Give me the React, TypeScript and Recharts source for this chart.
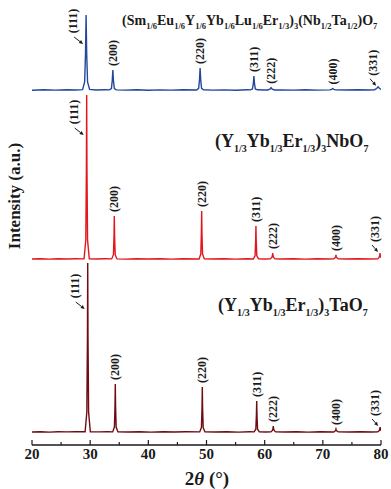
import { LineChart, Line, XAxis, YAxis, ReferenceDot } from "recharts";

// 2θ axis
const twoThetaTicks = [20, 25, 30, 35, 40, 45, 50, 55, 60, 65, 70, 75, 80];
const millerLabels = ["(111)", "(200)", "(220)", "(311)", "(222)", "(400)", "(331)"];

// vertical stacking offsets (a.u.)
const blueOffset = 354;
const redOffset = 185;
const darkRedOffset = 12;

// (Sm1/6Eu1/6Y1/6Yb1/6Lu1/6Er1/3)3(Nb1/2Ta1/2)O7
const bluePattern: [number, number][] = [
  [20, 0.8], [22, 1.2], [24, 0.9], [26, 1.3], [27.5, 1.0], [28.7, 1.4],
  [29.05, 9], [29.2, 38], [29.3, 76], [29.4, 38], [29.55, 9], [29.9, 1.6],
  [31, 1.0], [32.5, 1.2], [33.3, 1.1],
  [33.65, 2.5], [33.8, 10.5], [33.9, 21], [34.0, 10.5], [34.15, 2.5], [34.5, 1.1],
  [36, 0.9], [38, 1.2], [40, 0.8], [42, 1.1], [44, 0.9], [46, 1.2], [48.3, 1.0],
  [48.65, 2.7], [48.8, 11.5], [48.9, 23], [49.0, 11.5], [49.15, 2.7], [49.5, 1.2],
  [51, 0.9], [53, 1.1], [55, 0.8], [57, 1.2], [57.55, 1.1],
  [57.9, 2.0], [58.05, 7.5], [58.15, 15], [58.25, 7.5], [58.4, 2.0], [58.75, 1.2],
  [60, 1.0], [60.5, 1.0],
  [60.9, 1.8], [61.1, 3.3], [61.3, 1.8], [61.7, 1.0],
  [63, 1.1], [65, 0.9], [67, 1.2], [69, 0.9], [71.2, 1.1],
  [71.5, 1.7], [71.7, 2.4], [71.9, 1.7], [72.2, 1.1],
  [74, 1.0], [76, 1.2], [78, 1.0], [78.9, 1.3],
  [79.25, 2.5], [79.5, 4.2], [79.75, 2.5], [80, 1.6],
];
const bluePeakPos = [29.3, 33.9, 48.9, 58.15, 61.1, 71.7, 79.5];
const bluePeakTop = [76, 21, 23, 15, 3.3, 2.4, 4.2];

// (Y1/3Yb1/3Er1/3)3NbO7
const redPattern: [number, number][] = [
  [20, 1.0], [21.5, 1.3], [23, 0.9], [24.5, 1.2], [26, 1.0], [27.5, 1.3], [28.95, 1.1],
  [29.25, 20], [29.35, 90], [29.4, 165], [29.45, 90], [29.55, 20], [29.85, 1.2],
  [31, 1.0], [32.5, 1.2], [33.7, 1.1],
  [34.0, 5.3], [34.1, 24], [34.15, 44], [34.2, 24], [34.3, 5.3], [34.6, 1.1],
  [36, 0.9], [38, 1.2], [40, 1.0], [42, 1.3], [44, 0.9], [46, 1.2], [48.72, 1.0],
  [49.02, 5.9], [49.12, 27], [49.17, 49], [49.22, 27], [49.32, 5.9], [49.62, 1.1],
  [51, 1.0], [53, 1.3], [55, 0.9], [57, 1.2], [58.05, 1.0],
  [58.35, 4.1], [58.45, 19], [58.5, 34], [58.55, 19], [58.65, 4.1], [58.95, 1.1],
  [60, 1.0], [60.98, 1.1],
  [61.23, 2.5], [61.33, 4.5], [61.38, 7], [61.43, 4.5], [61.53, 2.5], [61.78, 1.1],
  [63, 1.0], [65, 1.3], [67, 0.9], [69, 1.2], [71, 1.0], [71.86, 1.1],
  [72.11, 2.2], [72.21, 3.6], [72.26, 5], [72.31, 3.6], [72.41, 2.2], [72.66, 1.1],
  [74, 1.0], [76, 1.3], [78, 1.0], [79.43, 1.1],
  [79.68, 2.5], [79.78, 4.6], [79.83, 7], [79.88, 4.6], [79.98, 2.5], [80, 2.2],
];
const redPeakPos = [29.4, 34.15, 49.17, 58.5, 61.38, 72.26, 79.83];
const redPeakTop = [165, 44, 49, 34, 7, 5, 7];

// (Y1/3Yb1/3Er1/3)3TaO7
const darkRedPattern: [number, number][] = [
  [20, 1.0], [21.5, 1.2], [23, 0.9], [24.5, 1.3], [26, 1.1], [27.5, 1.4], [29.13, 1.3],
  [29.43, 21], [29.53, 94], [29.58, 170], [29.63, 94], [29.73, 21], [30.03, 1.3],
  [31.5, 1.1], [33, 1.2], [33.87, 1.1],
  [34.17, 5.9], [34.27, 27], [34.32, 49], [34.37, 27], [34.47, 5.9], [34.77, 1.1],
  [36.5, 1.0], [38.5, 1.3], [40.5, 0.9], [42.5, 1.2], [44.5, 1.0], [46.5, 1.3], [48.83, 1.1],
  [49.13, 5.5], [49.23, 25], [49.28, 46], [49.33, 25], [49.43, 5.5], [49.73, 1.1],
  [51.5, 1.0], [53.5, 1.2], [55.5, 0.9], [57.5, 1.2], [58.18, 1.1],
  [58.48, 3.8], [58.58, 18], [58.63, 32], [58.68, 18], [58.78, 3.8], [59.08, 1.1],
  [60.2, 1.0], [61.08, 1.1],
  [61.33, 2.5], [61.43, 4.6], [61.48, 7], [61.53, 4.6], [61.63, 2.5], [61.88, 1.1],
  [63.5, 1.0], [65.5, 1.2], [67.5, 0.9], [69.5, 1.2], [71.86, 1.0],
  [72.11, 2.0], [72.21, 3.0], [72.26, 4], [72.31, 3.0], [72.41, 2.0], [72.66, 1.1],
  [74.5, 1.0], [76.5, 1.2], [78.5, 1.0], [79.45, 1.1],
  [79.7, 2.3], [79.8, 4.2], [79.85, 6], [79.9, 4.2], [80, 2.3],
];
const darkRedPeakPos = [29.58, 34.32, 49.28, 58.63, 61.48, 72.26, 79.85];
const darkRedPeakTop = [170, 49, 46, 32, 7, 4, 6];

// where the (111) arrow touches the peak (a.u. above baseline)
const arrow111At = [46, 124, 123];

const FONT = "'Liberation Serif', 'Times New Roman', serif";
const INK = "#1a1a1a";

const series = [
  { key: "blue", color: "#24479b", offset: blueOffset, pattern: bluePattern, pos: bluePeakPos, top: bluePeakTop, arrow: arrow111At[0] },
  { key: "red", color: "#e3161c", offset: redOffset, pattern: redPattern, pos: redPeakPos, top: redPeakTop, arrow: arrow111At[1] },
  { key: "darkred", color: "#6e0c12", offset: darkRedOffset, pattern: darkRedPattern, pos: darkRedPeakPos, top: darkRedPeakTop, arrow: arrow111At[2] },
];

type Part = [string, boolean];
const topFormula: Part[] = [
  ["(Sm", false], ["1/6", true], ["Eu", false], ["1/6", true], ["Y", false], ["1/6", true],
  ["Yb", false], ["1/6", true], ["Lu", false], ["1/6", true], ["Er", false], ["1/3", true],
  [")", false], ["3", true], ["(Nb", false], ["1/2", true], ["Ta", false], ["1/2", true],
  [")O", false], ["7", true],
];
const nbFormula: Part[] = [
  ["(Y", false], ["1/3", true], ["Yb", false], ["1/3", true], ["Er", false], ["1/3", true],
  [")", false], ["3", true], ["NbO", false], ["7", true],
];
const taFormula: Part[] = [
  ["(Y", false], ["1/3", true], ["Yb", false], ["1/3", true], ["Er", false], ["1/3", true],
  [")", false], ["3", true], ["TaO", false], ["7", true],
];

function Formula({ x, y, size, sub, parts }: { x: number; y: number; size: number; sub: number; parts: Part[] }) {
  const shift = size * 0.27;
  let lowered = false;
  return (
    <text x={x} y={y} fontSize={size} fontWeight="bold" fontFamily={FONT} fill={INK}>
      {parts.map(([t, isSub], i) => {
        let dy = 0;
        if (isSub && !lowered) { dy = shift; lowered = true; }
        else if (!isSub && lowered) { dy = -shift; lowered = false; }
        return (
          <tspan key={i} dy={dy} fontSize={isSub ? sub : size}>{t}</tspan>
        );
      })}
    </text>
  );
}

function Arrow({ x1, y1, x2, y2 }: { x1: number; y1: number; x2: number; y2: number }) {
  const a = Math.atan2(y2 - y1, x2 - x1);
  const L = 4, W = 1.8;
  const bx = x2 - L * Math.cos(a), by = y2 - L * Math.sin(a);
  const px = -Math.sin(a) * W, py = Math.cos(a) * W;
  return (
    <g>
      <line x1={x1} y1={y1} x2={bx} y2={by} stroke={INK} strokeWidth={1} />
      <polygon points={`${x2},${y2} ${bx + px},${by + py} ${bx - px},${by - py}`} fill={INK} />
    </g>
  );
}

function PeakLabel(props: any) {
  const { cx, cy, text, kind } = props;
  const style = { fontSize: 12, fontWeight: "bold" as const, fontFamily: FONT, fill: INK };
  if (kind === "left") {
    const tx = cx - 13, ty = cy - 24;
    return (
      <g>
        <text x={tx} y={ty} dy="0.35em" textAnchor="middle" transform={`rotate(-90, ${tx}, ${ty})`} {...style}>{text}</text>
        <Arrow x1={cx - 12} y1={cy - 8} x2={cx - 3} y2={cy - 1} />
      </g>
    );
  }
  if (kind === "edge") {
    const tx = cx - 5, ty = cy - 24;
    return (
      <g>
        <text x={tx} y={ty} dy="0.35em" textAnchor="middle" transform={`rotate(-90, ${tx}, ${ty})`} {...style}>{text}</text>
        <Arrow x1={cx - 8} y1={cy - 8} x2={cx - 2} y2={cy - 1} />
      </g>
    );
  }
  const ty = cy - 4;
  return (
    <text x={cx} y={ty} dy="0.35em" textAnchor="start" transform={`rotate(-90, ${cx}, ${ty})`} {...style}>{text}</text>
  );
}

function BottomTick(props: any) {
  const { x, y, payload } = props;
  const major = payload.value % 10 === 0;
  return (
    <g>
      <line x1={x} x2={x} y1={y} y2={y - (major ? 5 : 3)} stroke={INK} strokeWidth={1.2} />
      {major && (
        <text x={x} y={y + 14} textAnchor="middle" fontSize={15} fontWeight="bold" fontFamily={FONT} fill={INK}>
          {payload.value}
        </text>
      )}
    </g>
  );
}

export default function App() {
  return (
    <div style={{ position: "absolute", left: 0, top: 0, width: 391, height: 489, background: "#fff" }}>
      <LineChart width={391} height={489} margin={{ top: 5, right: 10, bottom: 0, left: 32 }}>
        <XAxis
          dataKey="x"
          type="number"
          domain={[20, 80]}
          ticks={twoThetaTicks}
          interval={0}
          allowDataOverflow
          height={44}
          tickSize={0}
          tickMargin={0}
          tickLine={false}
          tick={<BottomTick />}
          axisLine={{ stroke: INK, strokeWidth: 1.6 }}
        />
        <XAxis
          xAxisId="top"
          orientation="top"
          type="number"
          domain={[20, 80]}
          height={0}
          tick={false}
          tickLine={false}
          axisLine={{ stroke: INK, strokeWidth: 1.6 }}
        />
        <YAxis
          type="number"
          domain={[0, 440]}
          allowDataOverflow
          width={0}
          tick={false}
          tickLine={false}
          axisLine={{ stroke: INK, strokeWidth: 1.6 }}
        />
        <YAxis
          yAxisId="right"
          orientation="right"
          type="number"
          domain={[0, 440]}
          width={0}
          tick={false}
          tickLine={false}
          axisLine={{ stroke: INK, strokeWidth: 1.6 }}
        />
        {series.map((s) => (
          <Line
            key={s.key}
            data={s.pattern.map(([x, y]) => ({ x, y: y + s.offset }))}
            dataKey="y"
            type="linear"
            stroke={s.color}
            strokeWidth={1.4}
            dot={false}
            activeDot={false}
            isAnimationActive={false}
          />
        ))}
        {series.flatMap((s) =>
          s.pos.map((p, i) => {
            const kind = i === 0 ? "left" : i === s.pos.length - 1 ? "edge" : "normal";
            const yVal = s.offset + (i === 0 ? s.arrow : s.top[i]);
            return (
              <ReferenceDot
                key={`${s.key}-${i}`}
                x={p}
                y={yVal}
                r={1}
                ifOverflow="visible"
                shape={(dp: any) => <PeakLabel cx={dp.cx} cy={dp.cy} text={millerLabels[i]} kind={kind} />}
              />
            );
          })
        )}
      </LineChart>
      <svg width={391} height={489} style={{ position: "absolute", left: 0, top: 0, pointerEvents: "none" }}>
        <Formula x={122} y={25} size={14} sub={8.5} parts={topFormula} />
        <Formula x={215} y={147} size={18} sub={10} parts={nbFormula} />
        <Formula x={218} y={311} size={18} sub={10} parts={taFormula} />
        <text
          x={14}
          y={196}
          textAnchor="middle"
          dominantBaseline="central"
          transform="rotate(-90, 14, 196)"
          fontSize={17}
          fontWeight="bold"
          fontFamily={FONT}
          fill={INK}
        >
          Intensity (a.u.)
        </text>
        <text x={207} y={485} textAnchor="middle" fontSize={19} fontWeight="bold" fontFamily={FONT} fill={INK}>
          2<tspan fontStyle="italic">θ</tspan> (°)
        </text>
      </svg>
    </div>
  );
}
